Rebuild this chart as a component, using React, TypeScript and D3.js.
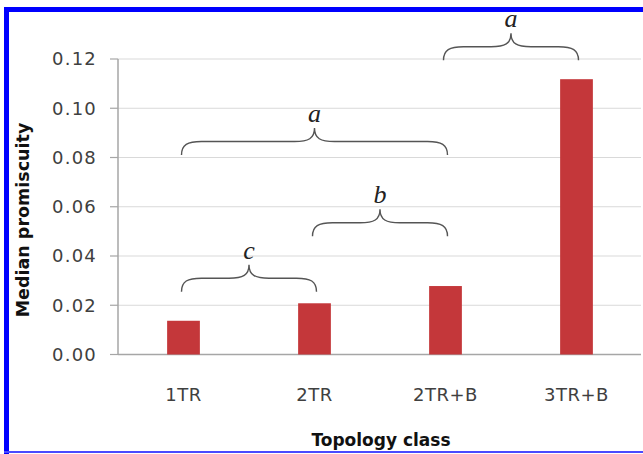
import React from "react";
import * as d3 from "d3";

const categories = ["1TR", "2TR", "2TR+B", "3TR+B"];
const medianPromiscuity = [0.0137, 0.0208, 0.0278, 0.1118];
const yTicks = [0, 0.02, 0.04, 0.06, 0.08, 0.1, 0.12];
const bracketFrom = ["1TR", "2TR", "1TR", "2TR+B"];
const bracketTo = ["2TR", "2TR+B", "2TR+B", "3TR+B"];
const bracketLevel = [0.0255, 0.048, 0.081, 0.1195];
const bracketLabel = ["c", "b", "a", "a"];

const W = 643;
const H = 454;
const left = 118;
const right = 642;
const top = 59;
const bottom = 354.5;

function bracePath(x0: number, x1: number, yb: number, h: number) {
  const xc = (x0 + x1) / 2;
  const ym = yb - h * 0.5;
  const yp = yb - h;
  const r = 20;
  return [
    `M${x0},${yb}`,
    `C${x0},${ym + 3} ${x0 + 6},${ym} ${x0 + r},${ym}`,
    `L${xc - r},${ym}`,
    `C${xc - 6},${ym} ${xc},${ym - 3} ${xc},${yp}`,
    `C${xc},${ym - 3} ${xc + 6},${ym} ${xc + r},${ym}`,
    `L${x1 - r},${ym}`,
    `C${x1 - 6},${ym} ${x1},${ym + 3} ${x1},${yb}`,
  ].join(" ");
}

export default function App() {
  const x = d3
    .scaleBand<string>()
    .domain(categories)
    .range([left, right])
    .paddingInner(0.75)
    .paddingOuter(0.375);
  const y = d3.scaleLinear().domain([0, 0.12]).range([bottom, top]);
  const fmt = d3.format(".2f");
  const sans = "DejaVu Sans, sans-serif";
  const center = (c: string) => (x(c) as number) + x.bandwidth() / 2;

  return (
    <svg
      width={W}
      height={H}
      style={{ position: "absolute", left: 0, top: 0, background: "#fff" }}
    >
      <rect x={0} y={0} width={W} height={H} fill="#fff" />
      {/* frame */}
      <rect x={4} y={7} width={W - 4} height={5} fill="#0000ff" />
      <rect x={4} y={7} width={5} height={H - 7} fill="#0000ff" />
      <rect x={4} y={451} width={W - 4} height={2} fill="#4a4aff" />

      {/* gridlines */}
      {yTicks.map((t) => (
        <line
          key={"g" + t}
          x1={left}
          x2={right - 1}
          y1={y(t)}
          y2={y(t)}
          stroke={t === 0 ? "#a6a6a6" : "#d9d9d9"}
          strokeWidth={t === 0 ? 1.5 : 1.2}
        />
      ))}
      {/* y axis */}
      <line x1={left} x2={left} y1={top} y2={bottom} stroke="#a6a6a6" strokeWidth={1.5} />
      {yTicks.map((t) => (
        <g key={"t" + t}>
          <line x1={left - 8} x2={left} y1={y(t)} y2={y(t)} stroke="#a6a6a6" strokeWidth={1.2} />
          <text
            x={97}
            y={y(t)}
            dy="0.36em"
            textAnchor="end"
            fontFamily={sans}
            fontSize={18}
            letterSpacing={1.2}
            fill="#404040"
          >
            {fmt(t)}
          </text>
        </g>
      ))}

      {/* bars */}
      {categories.map((c, i) => (
        <rect
          key={c}
          x={x(c)}
          y={y(medianPromiscuity[i])}
          width={x.bandwidth()}
          height={bottom - y(medianPromiscuity[i])}
          fill="#c4373a"
        />
      ))}

      {/* x labels */}
      {categories.map((c) => (
        <text
          key={"l" + c}
          x={center(c)}
          y={400.5}
          textAnchor="middle"
          fontFamily={sans}
          fontSize={18}
          letterSpacing={0.5}
          fill="#404040"
        >
          {c}
        </text>
      ))}

      {/* brackets */}
      {bracketLabel.map((lab, i) => {
        const x0 = center(bracketFrom[i]) - 2;
        const x1 = center(bracketTo[i]) + 2;
        const yb = y(bracketLevel[i]);
        return (
          <g key={"b" + i}>
            <path d={bracePath(x0, x1, yb, 27)} fill="none" stroke="#555" strokeWidth={1.4} />
            <text
              x={(x0 + x1) / 2}
              y={yb - 33}
              textAnchor="middle"
              fontFamily="Liberation Serif, serif"
              fontStyle="italic"
              fontSize={26}
              fill="#222"
            >
              {lab}
            </text>
          </g>
        );
      })}

      {/* axis titles */}
      <text
        x={381}
        y={446}
        textAnchor="middle"
        fontFamily={sans}
        fontWeight="bold"
        fontSize={17}
        fill="#111"
      >
        Topology class
      </text>
      <text
        transform={`translate(29,220) rotate(-90)`}
        textAnchor="middle"
        fontFamily={sans}
        fontWeight="bold"
        fontSize={17.5}
        fill="#111"
      >
        Median promiscuity
      </text>
    </svg>
  );
}
